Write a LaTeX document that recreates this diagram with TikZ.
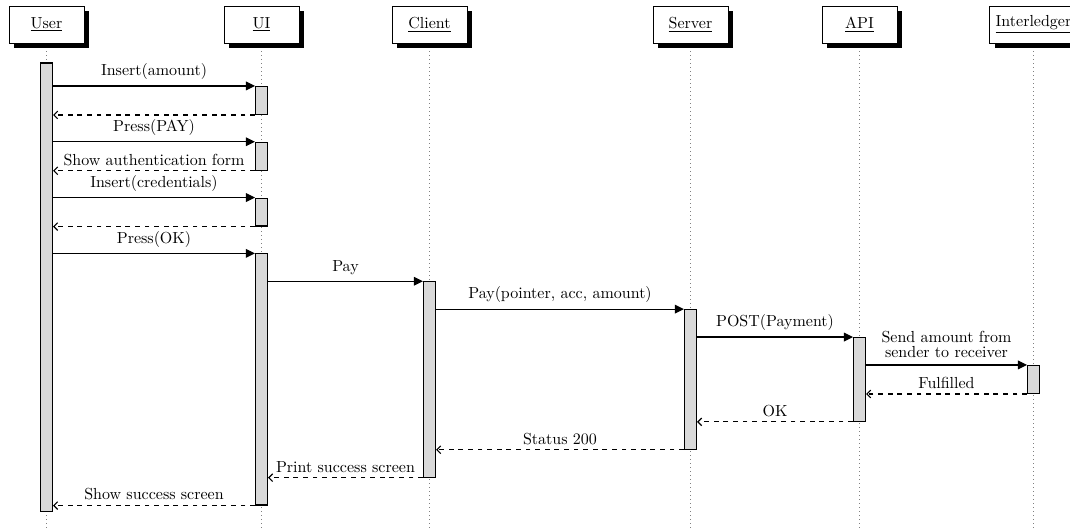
\documentclass[tikz,border=0pt]{standalone}
\usetikzlibrary{arrows.meta,fit,shadows}
\begin{document}
\begin{tikzpicture}[x=0.625pt,y=-0.625pt,
  thread/.style={draw=black, fill=white, line width=0.6pt,
    minimum width=75*0.625pt, minimum height=37*0.625pt, inner sep=3.6pt,
    drop shadow={shadow xshift=3.1pt, shadow yshift=-3.1pt, fill=black, opacity=1}},
  lifeline/.style={draw=gray, dotted, line width=0.5pt},
  bar/.style={draw=black, fill=gray!30, line width=0.7pt, inner sep=0pt},
  call/.style={line width=0.7pt, -{Triangle[length=5.6pt,width=5.4pt]}},
  ret/.style={line width=0.7pt, dashed, -{Straight Barb[length=2.4pt,width=4.8pt]}},
  clabel/.style={midway, anchor=base, yshift=6.4pt, inner sep=0pt},
  rlabel/.style={midway, anchor=base, yshift=3.5pt, inner sep=0pt}]
\useasboundingbox (0,0) rectangle (1070,528);
\clip (0,0) rectangle (1070,528);

\coordinate (bot) at (0,530);

% participants
\node[thread] (tU) at (46.5,24.5) {\underline{User}};
\node[thread] (tUI) at (261.5,24.5) {\underline{UI}};
\node[thread] (tC) at (429.5,24.5) {\underline{Client}};
\node[thread] (tS) at (690.5,24.5) {\underline{Server}};
\node[thread] (tA) at (859.5,24.5) {\underline{API}};
\node[thread] (tI) at (1033.5,24.5) {\underline{Interledger}};

% lifelines
\foreach \t in {tU,tUI,tC,tS,tA,tI}
  \draw[lifeline] ([yshift=-5pt]\t.south) -- (\t.south |- bot);

% activation bars
\node[bar, fit={(40.5,63) (52.5,511.5)}] (bU) {};
\node[bar, fit={(255.5,86.5) (267.5,114.4)}] (bUIa) {};
\node[bar, fit={(255.5,142.3) (267.5,170.2)}] (bUIb) {};
\node[bar, fit={(255.5,198.1) (267.5,226)}] (bUIc) {};
\node[bar, fit={(255.5,253.9) (267.5,505)}] (bUId) {};
\node[bar, fit={(423.5,281.8) (435.5,477.1)}] (bC) {};
\node[bar, fit={(684.5,309.7) (696.5,449.2)}] (bS) {};
\node[bar, fit={(853.5,337.6) (865.5,421.3)}] (bA) {};
\node[bar, fit={(1027.5,365.5) (1039.5,393.4)}] (bI) {};

% User <-> UI
\draw[call] (bU.east |- bUIa.north) -- node[clabel] {Insert(amount)} (bUIa.north west);
\draw[ret] (bUIa.south west) -- (bU.east |- bUIa.south);
\draw[call] (bU.east |- bUIb.north) -- node[clabel] {Press(PAY)} (bUIb.north west);
\draw[ret] (bUIb.south west) -- node[rlabel] {Show authentication form} (bU.east |- bUIb.south);
\draw[call] (bU.east |- bUIc.north) -- node[clabel] {Insert(credentials)} (bUIc.north west);
\draw[ret] (bUIc.south west) -- (bU.east |- bUIc.south);
\draw[call] (bU.east |- bUId.north) -- node[clabel] {Press(OK)} (bUId.north west);

% payment chain
\draw[call] (bUId.east |- bC.north) -- node[clabel] {Pay} (bC.north west);
\draw[call] (bC.east |- bS.north) -- node[clabel] {Pay(pointer, acc, amount)} (bS.north west);
\draw[call] (bS.east |- bA.north) -- node[clabel] {POST(Payment)} (bA.north west);
\draw[call] (bA.east |- bI.north) -- node[midway, above=4.2pt, inner sep=0pt, align=center]
  {Send amount from\\[-2.4pt]sender to receiver} (bI.north west);

% replies
\draw[ret] (bI.south west) -- node[rlabel] {Fulfilled} (bA.east |- bI.south);
\draw[ret] (bA.south west) -- node[rlabel] {OK} (bS.east |- bA.south);
\draw[ret] (bS.south west) -- node[rlabel] {Status 200} (bC.east |- bS.south);
\draw[ret] (bC.south west) -- node[rlabel] {Print success screen} (bUId.east |- bC.south);
\draw[ret] (bUId.south west) -- node[rlabel] {Show success screen} (bU.east |- bUId.south);
\end{tikzpicture}
\end{document}
